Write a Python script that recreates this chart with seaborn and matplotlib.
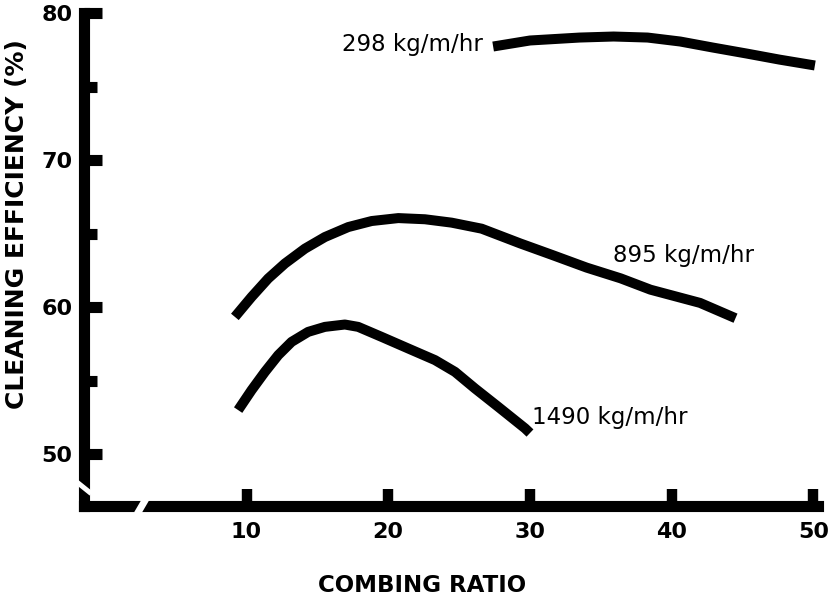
import matplotlib
matplotlib.use("Agg")
import matplotlib.pyplot as plt
import numpy as np
import pandas as pd
import seaborn as sns

# ---- data ----
ratio_298 = [27.4, 30.0, 33.5, 35.9, 38.3, 40.6, 42.9, 45.3, 47.6, 50.1]
eff_298 = [77.74, 78.15, 78.35, 78.42, 78.35, 78.08, 77.67, 77.26, 76.85, 76.45]

ratio_895 = [9.18, 10.36, 11.53, 12.71, 14.12, 15.53, 17.18, 18.83, 20.71, 22.59, 24.47, 26.59,
             29.3, 31.6, 34.0, 36.4, 38.5, 42.0, 44.5]
eff_895 = [59.35, 60.71, 61.96, 62.98, 63.99, 64.78, 65.46, 65.87, 66.07, 65.99, 65.76, 65.35,
           64.35, 63.55, 62.7, 61.97, 61.2, 60.3, 59.26]

ratio_1490 = [9.41, 10.36, 11.30, 12.24, 13.18, 14.35, 15.53, 16.94, 17.88, 19.53, 21.41, 23.30,
              24.71, 26.12, 27.76, 29.65, 30.0]
eff_1490 = [53.01, 54.37, 55.61, 56.75, 57.65, 58.33, 58.67, 58.83, 58.67, 57.99, 57.20, 56.41,
            55.61, 54.48, 53.23, 51.77, 51.45]

series_labels = ["298 kg/m/hr", "895 kg/m/hr", "1490 kg/m/hr"]
x_ticks = [10, 20, 30, 40, 50]
y_ticks = [50, 60, 70, 80]
y_minor = [55, 65, 75]
x_title = "COMBING RATIO"
y_title = "CLEANING EFFICIENCY (%)"

df = pd.concat([
    pd.DataFrame({"ratio": ratio_298, "eff": eff_298, "rate": series_labels[0]}),
    pd.DataFrame({"ratio": ratio_895, "eff": eff_895, "rate": series_labels[1]}),
    pd.DataFrame({"ratio": ratio_1490, "eff": eff_1490, "rate": series_labels[2]}),
])

sns.set_style("white")
plt.rcParams["font.family"] = ["DejaVu Sans"]
plt.rcParams["text.color"] = "black"
plt.rcParams["axes.labelcolor"] = "black"
plt.rcParams["xtick.color"] = "black"
plt.rcParams["ytick.color"] = "black"

W, H = 830, 601
fig = plt.figure(figsize=(W / 100, H / 100), dpi=100)
left_px, right_px, top_px, bot_px = 83.5, 818.0, 13.0, 505.5
ax = fig.add_axes([left_px / W, (H - bot_px) / H, (right_px - left_px) / W, (bot_px - top_px) / H])

sns.lineplot(data=df, x="ratio", y="eff", hue="rate", units="rate", estimator=None,
             palette=["black"] * 3, linewidth=7.2, legend=False, ax=ax, sort=True)
for ln in ax.lines:
    ln.set_solid_capstyle("butt")
    ln.set_solid_joinstyle("round")

ax.set_xlim(-1.5, 50.32)
ax.set_ylim(46.52, 80.02)

for s in ["top", "right"]:
    ax.spines[s].set_visible(False)
for s in ["left", "bottom"]:
    ax.spines[s].set_linewidth(8.0)
    ax.spines[s].set_color("black")
ax.spines["left"].set_capstyle("projecting")

ax.set_xticks(x_ticks)
ax.set_xticklabels([str(v) for v in x_ticks])
ax.set_yticks(y_ticks)
ax.set_yticklabels([str(v) for v in y_ticks])
ax.set_yticks(y_minor, minor=True)
ax.tick_params(axis="x", which="major", direction="in", length=12, width=7.5, color="black",
               pad=12, labelsize=16, bottom=True, labelcolor="black")
ax.tick_params(axis="y", which="major", direction="in", length=13, width=8, color="black",
               pad=8, labelsize=16, left=True, labelcolor="black")
ax.tick_params(axis="y", which="minor", direction="in", length=9, width=8, color="black", left=True)
for lab in ax.get_xticklabels() + ax.get_yticklabels():
    lab.set_fontweight("bold")

ax.set_xlabel(x_title, fontsize=16.5, fontweight="bold", color="black")
ax.set_ylabel(y_title, fontsize=18, fontweight="bold", color="black")
ax.xaxis.set_label_coords((422 - left_px) / (right_px - left_px), (bot_px - 574) / (bot_px - top_px))
ax.yaxis.set_label_coords((29 - left_px) / (right_px - left_px), (bot_px - 224) / (bot_px - top_px))

# curve labels
ax.text(26.7, 77.87, series_labels[0], ha="right", va="center", fontsize=16.5, color="black")
ax.text(35.85, 63.54, series_labels[1], ha="left", va="center", fontsize=16.5, color="black")
ax.text(30.14, 52.53, series_labels[2], ha="left", va="center", fontsize=16.5, color="black")

# axis breaks
ax.plot([-0.0105, 0.0105], [0.0494, 0.0242], transform=ax.transAxes, color="white",
        linewidth=3.6, solid_capstyle="butt", clip_on=False, zorder=10)
ax.plot([0.0729, 0.0866], [-0.0175, 0.0175], transform=ax.transAxes, color="white",
        linewidth=5.0, solid_capstyle="butt", clip_on=False, zorder=10)

fig.savefig("out.png", dpi=100)
